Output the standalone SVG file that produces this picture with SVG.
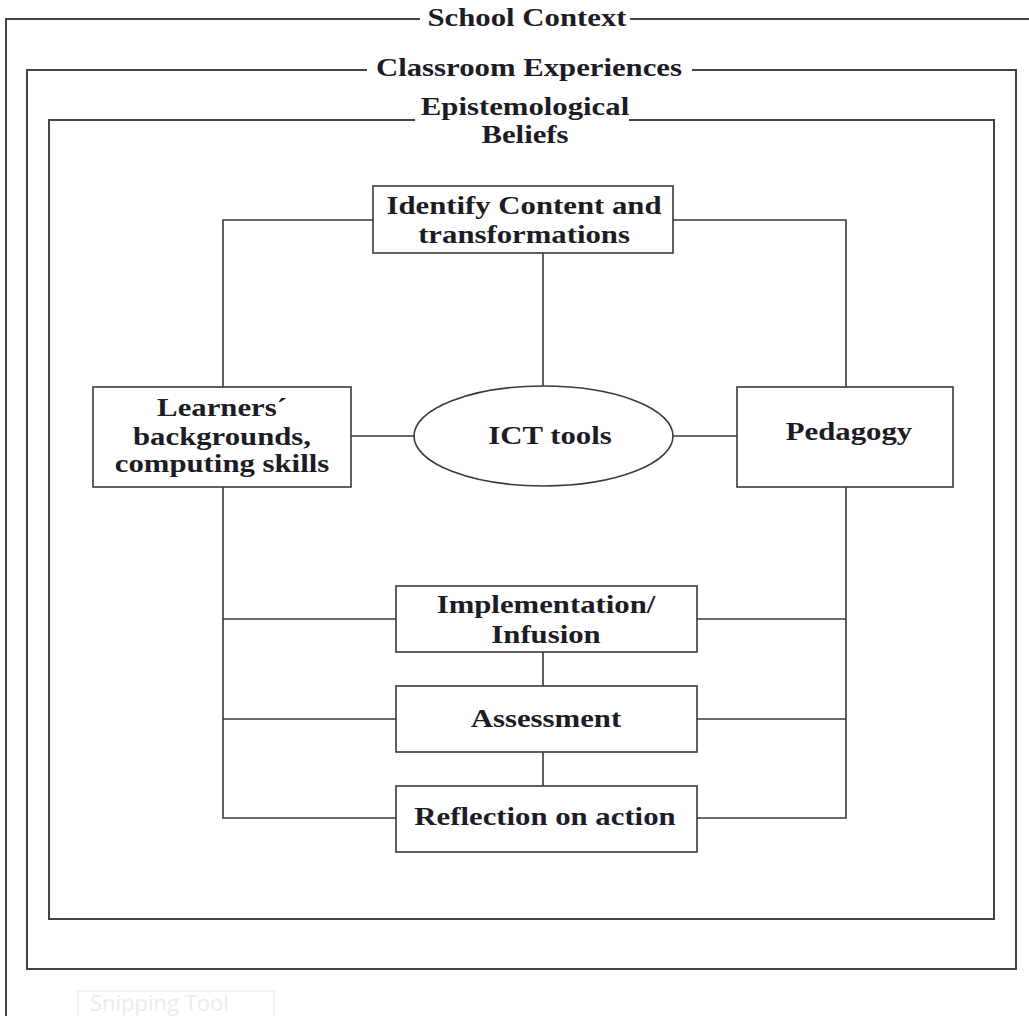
<svg xmlns="http://www.w3.org/2000/svg" width="1029" height="1016" viewBox="0 0 1029 1016">
  <style>
    .frame { fill: none; stroke: #444; stroke-width: 2; }
    .box { fill: #fff; stroke: #3a3a3a; stroke-width: 1.6; }
    .conn { fill: none; stroke: #3a3a3a; stroke-width: 1.6; }
    .t { font-family: "Liberation Serif", "Times New Roman", serif; font-weight: bold; font-size: 25px; fill: #1c1c26; text-anchor: middle; }
    .snip { font-family: "Open Sans", "Liberation Sans", sans-serif; font-size: 22px; fill: #ececec; }
  </style>
  <rect width="1029" height="1016" fill="#fff"/>

  <g id="school-context">
    <path class="frame" d="M420 19 H6 V1016 M630 19 H1029"/>
    <text class="t" transform="translate(527 26) scale(1.23 1)">School Context</text>
  </g>

  <g id="classroom-experiences">
    <path class="frame" d="M367 70 H27 V969 H1016 V70 H692"/>
    <text class="t" transform="translate(529 76) scale(1.23 1)">Classroom Experiences</text>
  </g>

  <g id="epistemological-beliefs">
    <path class="frame" d="M415 120 H49 V919 H994 V120 H629"/>
    <text class="t" transform="translate(525 115) scale(1.23 1)">Epistemological</text>
    <text class="t" transform="translate(525 143) scale(1.23 1)">Beliefs</text>
  </g>

  <g id="connectors">
    <path class="conn" d="M373 220 H223 V387"/>
    <path class="conn" d="M673 220 H846 V387"/>
    <path class="conn" d="M543 253 V386"/>
    <path class="conn" d="M351 436 H414"/>
    <path class="conn" d="M673 436 H737"/>
    <path class="conn" d="M223 487 V818 H396"/>
    <path class="conn" d="M846 487 V818 H697"/>
    <path class="conn" d="M223 619 H396 M697 619 H846"/>
    <path class="conn" d="M223 719 H396 M697 719 H846"/>
    <path class="conn" d="M543 652 V686 M543 752 V786"/>
  </g>

  <g id="identify-content">
    <rect class="box" x="373" y="186" width="300" height="67"/>
    <text class="t" transform="translate(524 214) scale(1.23 1)">Identify Content and</text>
    <text class="t" transform="translate(524 243) scale(1.23 1)">transformations</text>
  </g>

  <g id="learners">
    <rect class="box" x="93" y="387" width="258" height="100"/>
    <text class="t" transform="translate(222 416) scale(1.23 1)">Learners´</text>
    <text class="t" transform="translate(222 445) scale(1.23 1)">backgrounds,</text>
    <text class="t" transform="translate(222 472) scale(1.23 1)">computing skills</text>
  </g>

  <g id="ict-tools">
    <ellipse class="box" cx="543.5" cy="436" rx="129.5" ry="50"/>
    <text class="t" transform="translate(550 444) scale(1.23 1)">ICT tools</text>
  </g>

  <g id="pedagogy">
    <rect class="box" x="737" y="387" width="216" height="100"/>
    <text class="t" transform="translate(849 440) scale(1.23 1)">Pedagogy</text>
  </g>

  <g id="implementation">
    <rect class="box" x="396" y="586" width="301" height="66"/>
    <text class="t" transform="translate(546 613) scale(1.23 1)">Implementation/</text>
    <text class="t" transform="translate(546 643) scale(1.23 1)">Infusion</text>
  </g>

  <g id="assessment">
    <rect class="box" x="396" y="686" width="301" height="66"/>
    <text class="t" transform="translate(546 727) scale(1.23 1)">Assessment</text>
  </g>

  <g id="reflection">
    <rect class="box" x="396" y="786" width="301" height="66"/>
    <text class="t" transform="translate(545 825) scale(1.23 1)">Reflection on action</text>
  </g>

  <g id="snipping-tool">
    <rect x="78" y="991" width="196" height="40" fill="none" stroke="#f0f0f0" stroke-width="1.5"/>
    <text class="snip" x="90" y="1011">Snipping Tool</text>
  </g>
</svg>
